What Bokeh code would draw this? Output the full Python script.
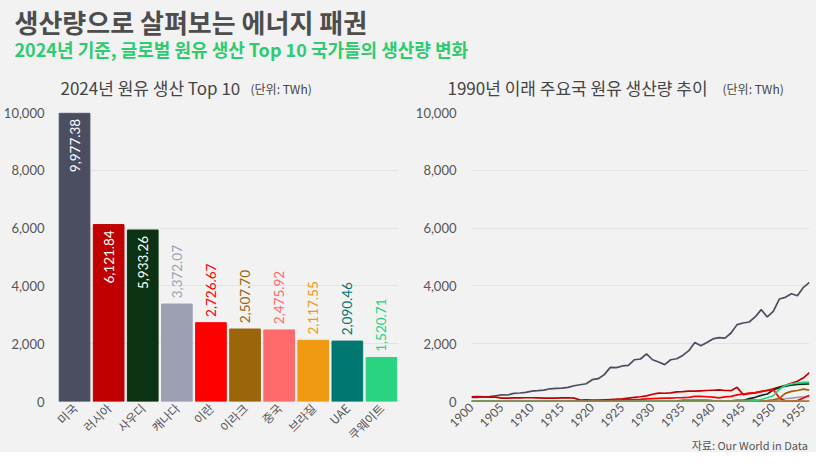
import math
from bokeh.plotting import figure
from bokeh.layouts import column, row
from bokeh.models import FixedTicker, NumeralTickFormatter, Range1d, ColumnDataSource
from bokeh.core.properties import value
from bokeh.embed import file_html
from bokeh.resources import INLINE

BG = "#f2f2f2"
KR = "Noto Sans CJK KR"
NUM = "Lato"
TXT = "#555555"

# ---------------- data ----------------
countries = ["미국", "러시아", "사우디", "캐나다", "이란", "이라크", "중국", "브라질", "UAE", "쿠웨이트"]
production_2024 = [9977.38, 6121.84, 5933.26, 3372.07, 2726.67, 2507.70, 2475.92, 2117.55, 2090.46, 1520.71]
colors = ["#4a4e60", "#c00000", "#0b3313", "#9ca0b2", "#ff0000",
          "#9b650c", "#ff6b6b", "#f09a12", "#007770", "#2ad380"]
y_ticks = [0, 2000, 4000, 6000, 8000, 10000]
year_ticks = [1900, 1905, 1910, 1915, 1920, 1925, 1930, 1935, 1940, 1945, 1950, 1955]

years = [1900, 1901, 1902, 1903, 1904, 1905, 1906, 1907, 1908, 1909,
         1910, 1911, 1912, 1913, 1914, 1915, 1916, 1917, 1918, 1919,
         1920, 1921, 1922, 1923, 1924, 1925, 1926, 1927, 1928, 1929,
         1930, 1931, 1932, 1933, 1934, 1935, 1936, 1937, 1938, 1939,
         1940, 1941, 1942, 1943, 1944, 1945, 1946, 1947, 1948, 1949,
         1950, 1951, 1952, 1953, 1954, 1955, 1956]

us = [140, 145, 165, 170, 200, 230, 225, 280, 295, 315,
      360, 375, 395, 440, 455, 465, 490, 545, 580, 615,
      755, 790, 930, 1180, 1170, 1230, 1250, 1445, 1470, 1645,
      1445, 1365, 1275, 1445, 1480, 1595, 1760, 2045, 1930, 2045,
      2165, 2210, 2195, 2370, 2660, 2715, 2750, 2925, 3180, 2925,
      3120, 3545, 3605, 3730, 3660, 3950, 4125]
russia = [165, 170, 160, 150, 150, 115, 120, 125, 125, 130,
          130, 125, 120, 120, 120, 125, 130, 115, 50, 55,
          45, 50, 60, 70, 80, 95, 120, 145, 165, 195,
          250, 290, 285, 300, 330, 340, 360, 360, 370, 380,
          390, 400, 380, 375, 490, 240, 270, 300, 340, 390,
          440, 500, 560, 630, 700, 820, 1000]
saudi = [0, 0, 0, 0, 0, 0, 0, 0, 0, 0,
         0, 0, 0, 0, 0, 0, 0, 0, 0, 0,
         0, 0, 0, 0, 0, 0, 0, 0, 0, 0,
         0, 0, 0, 0, 0, 0, 0, 0, 4, 6,
         8, 7, 7, 8, 12, 35, 100, 145, 210, 260,
         400, 480, 530, 565, 590, 600, 605]
canada = [3, 3, 3, 3, 3, 3, 3, 3, 3, 3,
          3, 3, 3, 3, 3, 3, 3, 3, 3, 3,
          3, 3, 3, 3, 3, 3, 3, 3, 3, 3,
          3, 3, 3, 3, 3, 3, 5, 5, 5, 5,
          5, 5, 5, 5, 5, 5, 5, 8, 15, 25,
          40, 60, 95, 120, 145, 165, 180]
iran = [0, 0, 0, 0, 0, 0, 0, 0, 0, 0,
        0, 0, 0, 3, 5, 6, 8, 12, 14, 17,
        20, 30, 35, 40, 50, 55, 60, 65, 75, 90,
        100, 110, 115, 120, 130, 135, 145, 175, 175, 165,
        150, 125, 160, 175, 230, 260, 290, 310, 350, 380,
        410, 130, 12, 12, 30, 120, 215]
iraq = [0, 0, 0, 0, 0, 0, 0, 0, 0, 0,
        0, 0, 0, 0, 0, 0, 0, 0, 0, 0,
        0, 0, 0, 0, 0, 0, 0, 1, 1, 1,
        1, 1, 1, 1, 15, 45, 50, 50, 50, 45,
        30, 20, 20, 25, 45, 50, 50, 50, 20, 30,
        60, 110, 280, 350, 380, 430, 395]
china = [0, 0, 0, 0, 0, 0, 0, 0, 0, 0,
         0, 0, 0, 0, 0, 0, 0, 0, 0, 0,
         0, 0, 0, 0, 0, 0, 0, 0, 0, 0,
         0, 0, 0, 0, 0, 0, 0, 0, 0, 1,
         1, 1, 2, 2, 2, 1, 1, 1, 1, 1,
         2, 3, 4, 6, 8, 11, 13]
brazil = [0, 0, 0, 0, 0, 0, 0, 0, 0, 0,
          0, 0, 0, 0, 0, 0, 0, 0, 0, 0,
          0, 0, 0, 0, 0, 0, 0, 0, 0, 0,
          0, 0, 0, 0, 0, 0, 0, 0, 0, 0,
          0, 0, 0, 0, 0, 0, 0, 0, 0, 0,
          1, 1, 1, 2, 2, 3, 4]
uae = [0, 0, 0, 0, 0, 0, 0, 0, 0, 0,
       0, 0, 0, 0, 0, 0, 0, 0, 0, 0,
       0, 0, 0, 0, 0, 0, 0, 0, 0, 0,
       0, 0, 0, 0, 0, 0, 0, 0, 0, 0,
       0, 0, 0, 0, 0, 0, 0, 0, 0, 0,
       0, 0, 0, 0, 0, 0, 0]
kuwait = [0, 0, 0, 0, 0, 0, 0, 0, 0, 0,
          0, 0, 0, 0, 0, 0, 0, 0, 0, 0,
          0, 0, 0, 0, 0, 0, 0, 0, 0, 0,
          0, 0, 0, 0, 0, 0, 0, 0, 0, 0,
          0, 0, 0, 0, 0, 0, 10, 25, 70, 130,
          200, 420, 560, 610, 640, 660, 675]

series = [us, russia, saudi, canada, iran, iraq, china, brazil, uae, kuwait]

TITLE = "생산량으로 살펴보는 에너지 패권"
SUBTITLE = "2024년 기준, 글로벌 원유 생산 Top 10 국가들의 생산량 변화"
LEFT_TITLE = "2024년 원유 생산 Top 10"
RIGHT_TITLE = "1990년 이래 주요국 원유 생산량 추이"
UNIT = "(단위: TWh)"
SOURCE = "자료: Our World in Data"


def style(p):
    p.background_fill_color = BG
    p.border_fill_color = BG
    p.outline_line_color = None


def text_panel(w, h):
    f = figure(width=w, height=h, x_range=Range1d(0, w), y_range=Range1d(h, 0),
               output_backend="svg", toolbar_location=None, min_border=0,
               x_axis_location=None, y_axis_location=None)
    style(f)
    f.grid.visible = False
    return f


# ---------------- header ----------------
header = text_panel(816, 104)
header.text(x=[14], y=[21], text=[TITLE], text_font=value(KR), text_font_size="26px",
            text_font_style="bold", text_color="#4d4d4d", text_baseline="middle")
header.text(x=[14], y=[48], text=[SUBTITLE], text_font=value(KR), text_font_size="18px",
            text_font_style="bold", text_color="#2dcc70", text_baseline="middle")
header.text(x=[60, 447], y=[87, 87], text=[LEFT_TITLE, RIGHT_TITLE], text_font=value(KR),
            text_font_size="17px", text_color="#444444", text_baseline="middle")
header.text(x=[250, 722], y=[88, 88], text=[UNIT, UNIT], text_font=value(KR),
            text_font_size="12px", text_color="#444444", text_baseline="middle")


def style_axes(p):
    p.yaxis.ticker = FixedTicker(ticks=y_ticks)
    p.yaxis.formatter = NumeralTickFormatter(format="0,0")
    for ax in (p.xaxis, p.yaxis):
        ax.axis_line_color = None
        ax.major_tick_line_color = None
        ax.minor_tick_line_color = None
        ax.major_tick_out = 0
        ax.major_tick_in = 0
        ax.minor_tick_out = 0
        ax.minor_tick_in = 0
        ax.major_label_text_color = TXT
    p.yaxis.major_label_text_font = NUM
    p.yaxis.major_label_text_font_size = "13px"
    p.xaxis.major_label_orientation = math.pi / 4
    p.xgrid.grid_line_color = None
    p.ygrid.grid_line_color = "#e3e3e3"
    p.ygrid.grid_line_width = 1


# ---------------- left: bars ----------------
left = figure(width=400, height=348, x_range=countries, y_range=Range1d(0, 10000),
              output_backend="svg", toolbar_location=None,
              min_border_left=54, min_border_right=2, min_border_top=8, min_border_bottom=51)
style(left)
style_axes(left)
left.yaxis.major_label_standoff = 13
left.xaxis.major_label_text_font = KR
left.xaxis.major_label_text_font_size = "12px"
left.xaxis.major_label_standoff = 4

src = ColumnDataSource(dict(c=countries, v=production_2024, col=colors))
left.vbar(x="c", top="v", width=0.9, color="col", source=src)

inside = [v > 4000 for v in production_2024]
lab = ColumnDataSource(dict(
    c=countries,
    y=[v - 200 if i else v + 200 for v, i in zip(production_2024, inside)],
    t=[f"{v:,.2f}" for v in production_2024],
    col=["#ffffff" if i else c for i, c in zip(inside, colors)],
    al=["right" if i else "left" for i in inside],
))
left.text(x="c", y="y", text="t", angle=math.pi / 2, text_align="al", text_baseline="middle",
          text_color="col", text_font=value(NUM), text_font_size="13.5px", source=lab)

# ---------------- right: lines ----------------
right = figure(width=416, height=332, x_range=Range1d(1900, 1956), y_range=Range1d(0, 10000),
               output_backend="svg", toolbar_location=None,
               min_border_left=71, min_border_right=7, min_border_top=8, min_border_bottom=35)
style(right)
style_axes(right)
right.yaxis.major_label_standoff = 15
right.xaxis.ticker = FixedTicker(ticks=year_ticks)
right.xaxis.major_label_text_font = NUM
right.xaxis.major_label_text_font_size = "12px"
right.xaxis.major_label_standoff = 4

for s, c in zip(series, colors):
    right.line(years, s, line_color=c, line_width=1.7)

footer = text_panel(416, 16)
footer.text(x=[414], y=[8], text=[SOURCE], text_font=value(KR), text_font_size="11px",
            text_color=TXT, text_align="right", text_baseline="middle")

bg_style = {"background-color": BG}
right_col = column(right, footer, styles=bg_style)
charts = row(left, right_col, styles=bg_style)
p = column(header, charts, styles=bg_style)

open("out.html", "w").write(file_html(p, INLINE))
